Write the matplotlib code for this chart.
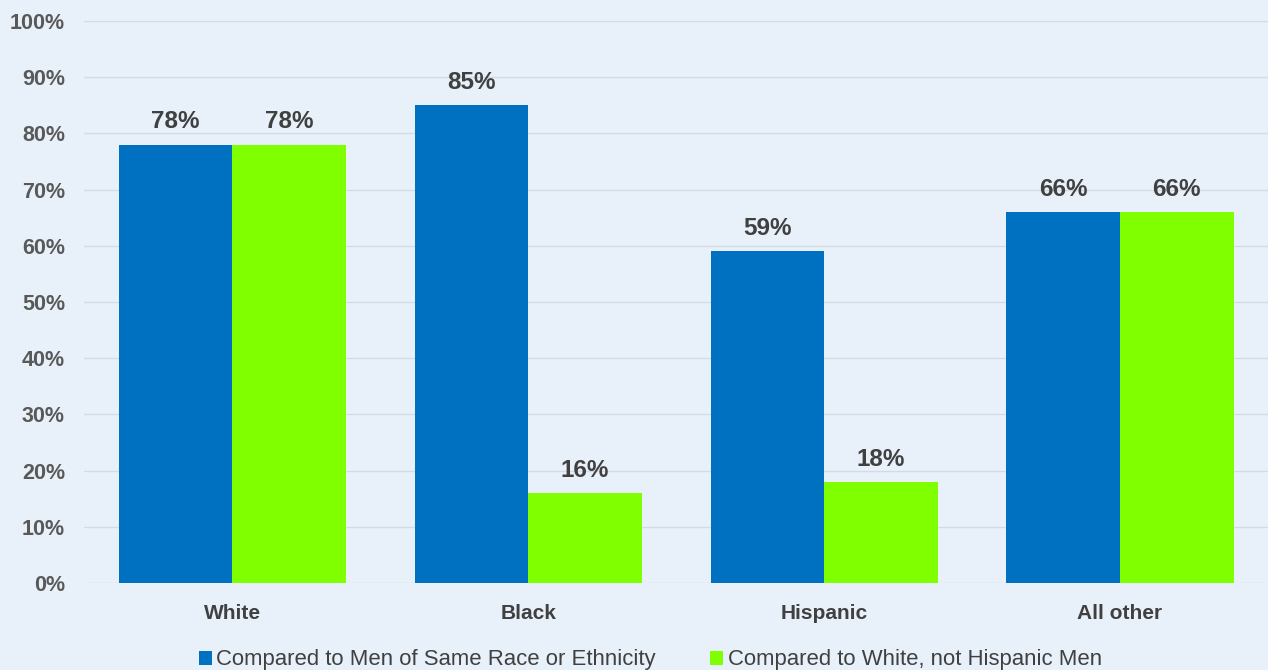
import matplotlib.pyplot as plt
import numpy as np

plt.rcParams['font.family'] = ['Liberation Sans', 'DejaVu Sans']

categories = ['White', 'Black', 'Hispanic', 'All other']
same_race = [78, 85, 59, 66]
white_men = [78, 16, 18, 66]
series_names = ['Compared to Men of Same Race or Ethnicity',
                'Compared to White, not Hispanic Men']

bg = '#e8f1fa'
blue = '#0070c0'
green = '#80ff00'

fig = plt.figure(figsize=(12.68, 6.70), dpi=100, facecolor=bg)
ax = fig.add_axes([0.0666, 0.1299, 0.9334, 0.8388], facecolor=bg)

x = np.arange(len(categories))
w = 0.384
b1 = ax.bar(x - w / 2, same_race, w, color=blue, label=series_names[0], zorder=3)
b2 = ax.bar(x + w / 2, white_men, w, color=green, label=series_names[1], zorder=3)

for bars in (b1, b2):
    for r in bars:
        ax.text(r.get_x() + r.get_width() / 2, r.get_height() + 2.0, f'{r.get_height():.0f}%',
                ha='center', va='bottom', fontsize=17.5, fontweight='bold', color='#404040')

ax.set_ylim(0, 100)
ax.set_xlim(-0.5, 3.5)
ax.set_yticks(range(0, 101, 10))
ax.set_yticklabels([f'{v}%' for v in range(0, 101, 10)])
ax.set_xticks(x)
ax.set_xticklabels(categories)
ax.tick_params(axis='y', length=0, pad=14, labelsize=15.5, labelcolor='#595959')
ax.tick_params(axis='x', length=0, pad=15, labelsize=15, labelcolor='#404040')
for lab in ax.get_xticklabels() + ax.get_yticklabels():
    lab.set_fontweight('bold')
ax.grid(axis='y', color='#d4dbe3', linewidth=1, zorder=0)
for s in ax.spines.values():
    s.set_visible(False)

ax.legend(loc='center', bbox_to_anchor=(0.478, -0.137), ncol=2, frameon=False,
          fontsize=15.9, handlelength=0.6, handleheight=0.6, handletextpad=0.2,
          columnspacing=2.45, labelcolor='#404040')

fig.savefig('out.png', dpi=100, facecolor=bg)
